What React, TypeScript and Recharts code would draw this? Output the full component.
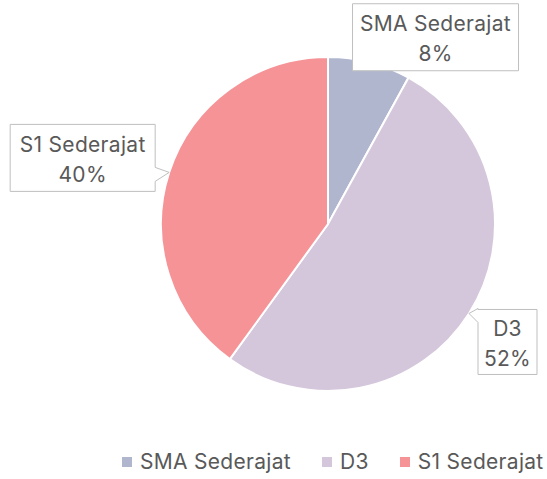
import { PieChart, Pie, Cell, Legend } from 'recharts'

const categories = ['SMA Sederajat', 'D3', 'S1 Sederajat']
const shares = [8, 52, 40]
const colors = ['#b1b6cf', '#d4c6db', '#f59397']

const data = categories.map((name, i) => ({ name, value: shares[i] }))

// callout box placement relative to the slice edge point
const callouts = [
  { dx: 66, dy: -25, w: 166, h: 67, side: 'none' },
  { dx: 38.5, dy: 28.5, w: 59, h: 65, side: 'left' },
  { dx: -86.5, dy: -14.5, w: 145, h: 67, side: 'right' },
]

const RADIAN = Math.PI / 180
const textColor = '#595959'
const font = 'Inter, "Noto Sans", sans-serif'

const CalloutLabel = (props: any) => {
  const { cx, cy, midAngle, outerRadius, index, name, value } = props
  const c = callouts[index]
  const ax = cx + outerRadius * Math.cos(-midAngle * RADIAN)
  const ay = cy + outerRadius * Math.sin(-midAngle * RADIAN)
  const mx = ax + c.dx
  const my = ay + c.dy
  const l = mx - c.w / 2
  const r = mx + c.w / 2
  const t = my - c.h / 2
  const b = my + c.h / 2
  const p1 = ay - 5
  const p2 = ay + 9
  let d = `M${l},${t} H${r} V${b} H${l} Z`
  if (c.side === 'left') {
    d = `M${l},${t} H${r} V${b} H${l} V${p2} L${ax},${ay} L${l},${p1} Z`
  } else if (c.side === 'right') {
    d = `M${l},${t} H${r} V${p1} L${ax},${ay} L${r},${p2} V${b} H${l} Z`
  }
  return (
    <g>
      <path d={d} fill="#fff" stroke="#bfbfbf" strokeWidth={1} />
      <text x={mx} y={my - 6} textAnchor="middle" fill={textColor} fontSize={21} letterSpacing={0.3} fontFamily={font}>
        {name}
      </text>
      <text x={mx} y={my + 24} textAnchor="middle" fill={textColor} fontSize={21} letterSpacing={0.3} fontFamily={font}>
        {`${value}%`}
      </text>
    </g>
  )
}

const LegendContent = () => (
  <div style={{ display: 'flex', alignItems: 'center', fontFamily: font, fontSize: 21, letterSpacing: 0.3, color: textColor }}>
    {categories.map((name, i) => (
      <div key={name} style={{ display: 'flex', alignItems: 'center', marginRight: i < categories.length - 1 ? 31 : 0 }}>
        <div style={{ width: 10, height: 10, background: colors[i], marginRight: 8 }} />
        <span>{name}</span>
      </div>
    ))}
  </div>
)

export default function App() {
  return (
    <div style={{ position: 'absolute', left: 0, top: 0, background: '#fff' }}>
      <PieChart width={547} height={479}>
        <Pie
          data={data}
          dataKey="value"
          nameKey="name"
          cx={323}
          cy={219}
          outerRadius={167}
          startAngle={90}
          endAngle={-270}
          stroke="#fff"
          strokeWidth={2}
          label={CalloutLabel}
          labelLine={false}
          isAnimationActive={false}
        >
          {data.map((entry, i) => (
            <Cell key={entry.name} fill={colors[i]} />
          ))}
        </Pie>
        <Legend content={<LegendContent />} wrapperStyle={{ position: 'absolute', left: 122, top: 449, width: 'auto' }} />
      </PieChart>
    </div>
  )
}
